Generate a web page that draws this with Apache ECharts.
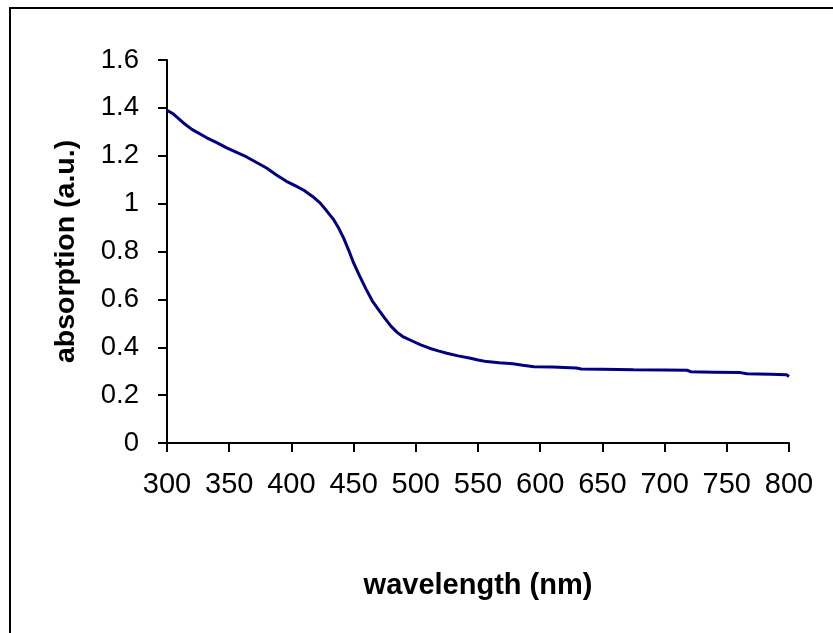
<!DOCTYPE html>
<html>
<head>
<meta charset="utf-8">
<script src="https://cdn.jsdelivr.net/npm/echarts@6/dist/echarts.min.js"></script>
<style>
  html, body { margin: 0; padding: 0; background: #fff; }
  #chart { width: 833px; height: 633px; }
</style>
</head>
<body>
<div id="chart"></div>
<script>
// absorption spectrum
const wavelengths = [300, 305, 313, 320, 332, 340, 348, 356, 364, 372, 380, 388, 396, 403, 410, 417, 423, 428, 434, 438, 442, 446, 450, 455, 460, 465, 470, 475, 480, 485, 490, 498, 504, 511, 518, 525, 534, 544, 550, 557, 567, 578, 586, 595, 610, 629, 633, 650, 675, 700, 718, 721, 740, 761, 766, 785, 798, 800]
const absorption = [1.39, 1.375, 1.338, 1.31, 1.275, 1.255, 1.233, 1.214, 1.195, 1.172, 1.149, 1.12, 1.093, 1.075, 1.056, 1.03, 1.003, 0.972, 0.933, 0.898, 0.856, 0.806, 0.752, 0.696, 0.643, 0.594, 0.557, 0.522, 0.488, 0.462, 0.443, 0.424, 0.41, 0.396, 0.385, 0.375, 0.364, 0.354, 0.347, 0.34, 0.335, 0.331, 0.325, 0.319, 0.317, 0.313, 0.309, 0.308, 0.306, 0.305, 0.304, 0.298, 0.296, 0.294, 0.289, 0.287, 0.285, 0.278]
const xTicks = { min: 300, max: 800, interval: 50 }
const yTicks = { min: 0, max: 1.6, interval: 0.2 }

const font = '"Liberation Sans", Arial, sans-serif'

const chart = echarts.init(document.getElementById('chart'))
chart.setOption({
  animation: false,
  backgroundColor: '#fff',
  grid: { left: 167, right: 44, top: 60, bottom: 190, containLabel: false },
  graphic: [
    {
      type: 'rect',
      shape: { x: 10, y: 8, width: 900, height: 700 },
      style: { fill: 'none', stroke: '#000', lineWidth: 2 },
      silent: true
    }
  ],
  xAxis: {
    type: 'value',
    min: xTicks.min,
    max: xTicks.max,
    interval: xTicks.interval,
    name: 'wavelength (nm)',
    nameLocation: 'middle',
    nameGap: 128,
    nameTextStyle: { fontFamily: font, fontWeight: 'bold', fontSize: 29, color: '#000' },
    axisLine: { lineStyle: { color: '#000', width: 2 } },
    axisTick: { length: 9, lineStyle: { color: '#000', width: 2 } },
    axisLabel: { fontFamily: font, fontSize: 29, color: '#000', margin: 27 },
    splitLine: { show: false }
  },
  yAxis: {
    type: 'value',
    min: yTicks.min,
    max: yTicks.max,
    interval: yTicks.interval,
    name: 'absorption (a.u.)',
    nameLocation: 'middle',
    nameGap: 86,
    nameRotate: 90,
    nameTextStyle: { fontFamily: font, fontWeight: 'bold', fontSize: 28.5, color: '#000' },
    axisLine: { show: true, lineStyle: { color: '#000', width: 2 } },
    axisTick: { show: true, length: 9, lineStyle: { color: '#000', width: 2 } },
    axisLabel: { fontFamily: font, fontSize: 27.5, color: '#000', margin: 28 },
    splitLine: { show: false }
  },
  series: [
    {
      type: 'line',
      data: wavelengths.map((w, i) => [w, absorption[i]]),
      showSymbol: false,
      lineStyle: { color: '#000080', width: 3 },
      itemStyle: { color: '#000080' }
    }
  ]
})
</script>
</body>
</html>
